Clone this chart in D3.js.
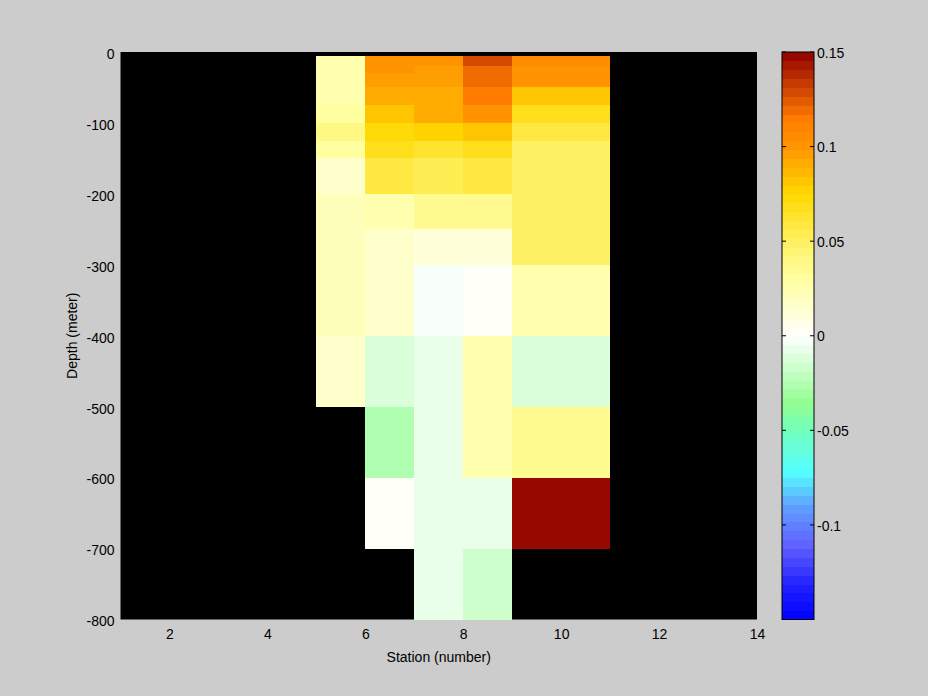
<!DOCTYPE html>
<html><head><meta charset="utf-8">
<script src="https://cdn.jsdelivr.net/npm/d3@7"></script>
<style>
html,body{margin:0;padding:0;background:#cccccc;}
text{font-family:"Liberation Sans",Arial,sans-serif;font-size:14px;fill:#000;}
</style></head>
<body>
<svg id="chart" width="928" height="696"></svg>
<script>
// ---- data ----
const stationEdges = [5, 6, 7, 8, 9, 10, 11];
const depthEdges = [-5, -20, -30, -50, -75, -100, -125, -150, -200, -250, -300, -400, -500, -600, -700, -800];
// one array per station column (cell between stationEdges[i] and stationEdges[i+1]); rows follow depthEdges
const col5  = [0.024, 0.024, 0.024, 0.024, 0.03, 0.038, 0.03, 0.017, 0.02, 0.02, 0.02, 0.018, null, null, null];
const col6  = [0.1, 0.1, 0.095, 0.09, 0.08, 0.072, 0.066, 0.06, 0.025, 0.018, 0.018, -0.01, -0.025, 0.002, null];
const col7  = [0.1, 0.097, 0.097, 0.09, 0.093, 0.075, 0.062, 0.056, 0.036, 0.012, -0.003, -0.008, -0.008, -0.008, -0.008];
const col8  = [0.13, 0.12, 0.12, 0.115, 0.103, 0.08, 0.068, 0.06, 0.036, 0.012, 0.003, 0.028, 0.028, -0.008, -0.018];
const col9  = [0.105, 0.1, 0.1, 0.08, 0.066, 0.06, 0.05, 0.05, 0.05, 0.048, 0.025, -0.01, 0.035, 0.15, null];
const col10 = [0.105, 0.1, 0.1, 0.08, 0.066, 0.06, 0.05, 0.05, 0.05, 0.048, 0.025, -0.01, 0.035, 0.15, null];
const columns = [col5, col6, col7, col8, col9, col10];

const xTicks = [2, 4, 6, 8, 10, 12, 14];
const yTicks = [0, -100, -200, -300, -400, -500, -600, -700, -800];
const cbTicks = [0.15, 0.1, 0.05, 0, -0.05, -0.1];
const cLimits = [-0.15, 0.15];
const nLevels = 64;
const cmapStops = [
  [0.00, "#0000ff"], [0.06, "#2020ff"], [0.13, "#6060ff"], [0.20, "#60a0ff"],
  [0.26, "#55ffff"], [0.33, "#70ffc0"], [0.38, "#90ff90"], [0.50, "#ffffff"],
  [0.60, "#ffffa0"], [0.67, "#fff060"], [0.75, "#ffd800"], [0.833, "#ff9400"],
  [0.883, "#ff7c00"], [1.00, "#900000"]
];
const xLabel = "Station (number)";
const yLabel = "Depth (meter)";

// ---- layout ----
const svg = d3.select("#chart");
const ax = {left: 120.5, right: 757, top: 52, bottom: 619.5};
const cb = {left: 782, right: 814, top: 52, bottom: 619.5};

const x = d3.scaleLinear().domain([1, 14]).range([ax.left, ax.right]);
const y = d3.scaleLinear().domain([0, -800]).range([ax.top, ax.bottom]);

const interp = d3.scaleLinear().domain(cmapStops.map(d => d[0])).range(cmapStops.map(d => d[1])).interpolate(d3.interpolateRgb);
const levels = d3.range(nLevels).map(i => interp((i + 0.5) / nLevels));
const levelOf = v => Math.max(0, Math.min(nLevels - 1, Math.floor((v - cLimits[0]) / (cLimits[1] - cLimits[0]) * nLevels)));
const color = v => levels[levelOf(v)];

svg.append("rect").attr("width", 928).attr("height", 696).attr("fill", "#cccccc");

// axes background
svg.append("rect").attr("x", ax.left).attr("y", ax.top)
  .attr("width", ax.right - ax.left).attr("height", ax.bottom - ax.top).attr("fill", "#000");

// cells
const cells = [];
columns.forEach((col, i) => {
  col.forEach((v, j) => {
    if (v === null) return;
    cells.push({x0: stationEdges[i], x1: stationEdges[i + 1], y0: depthEdges[j], y1: depthEdges[j + 1], v});
  });
});
svg.append("g").attr("shape-rendering", "crispEdges")
  .selectAll("rect").data(cells).join("rect")
  .attr("x", d => x(d.x0)).attr("width", d => x(d.x1) - x(d.x0))
  .attr("y", d => y(d.y0)).attr("height", d => y(d.y1) - y(d.y0))
  .attr("fill", d => color(d.v));

// axes ticks/labels
const xAxis = svg.append("g").attr("transform", `translate(0,${ax.bottom})`)
  .call(d3.axisBottom(x).tickValues(xTicks).tickSize(0).tickPadding(10).tickFormat(d3.format("d")));
xAxis.select(".domain").remove();
xAxis.selectAll("text").attr("font-size", null).attr("font-family", null);

const yAxis = svg.append("g").attr("transform", `translate(${ax.left},0)`)
  .call(d3.axisLeft(y).tickValues(yTicks).tickSize(0).tickPadding(6).tickFormat(d => d3.format("d")(d).replace("−", "-")));
yAxis.select(".domain").remove();
yAxis.selectAll("text").attr("font-size", null).attr("font-family", null).attr("dy", "0.45em");

svg.append("text").attr("x", (ax.left + ax.right) / 2).attr("y", 662)
  .attr("text-anchor", "middle").text(xLabel);
svg.append("text").attr("transform", `translate(77,${(ax.top + ax.bottom) / 2}) rotate(-90)`)
  .attr("text-anchor", "middle").text(yLabel);

// colorbar
const cy = d3.scaleLinear().domain(cLimits).range([cb.bottom, cb.top]);
const step = (cLimits[1] - cLimits[0]) / nLevels;
svg.append("g").attr("shape-rendering", "crispEdges")
  .selectAll("rect").data(levels).join("rect")
  .attr("x", cb.left).attr("width", cb.right - cb.left)
  .attr("y", (d, i) => cy(cLimits[0] + (i + 1) * step))
  .attr("height", (d, i) => cy(cLimits[0] + i * step) - cy(cLimits[0] + (i + 1) * step) + 0.5)
  .attr("fill", d => d);
svg.append("rect").attr("x", cb.left).attr("y", cb.top).attr("width", cb.right - cb.left)
  .attr("height", cb.bottom - cb.top).attr("fill", "none").attr("stroke", "#000").attr("stroke-width", 1);
const tk = svg.append("g").selectAll("g").data(cbTicks).join("g")
  .attr("transform", d => `translate(0,${cy(d)})`);
tk.append("line").attr("x1", cb.left).attr("x2", cb.left + 4).attr("stroke", "#000");
tk.append("line").attr("x1", cb.right - 4).attr("x2", cb.right).attr("stroke", "#000");
tk.append("text").attr("x", cb.right + 3).attr("dy", "0.4em").text(d => d3.format("")(d).replace("−", "-"));
</script>
</body></html>
